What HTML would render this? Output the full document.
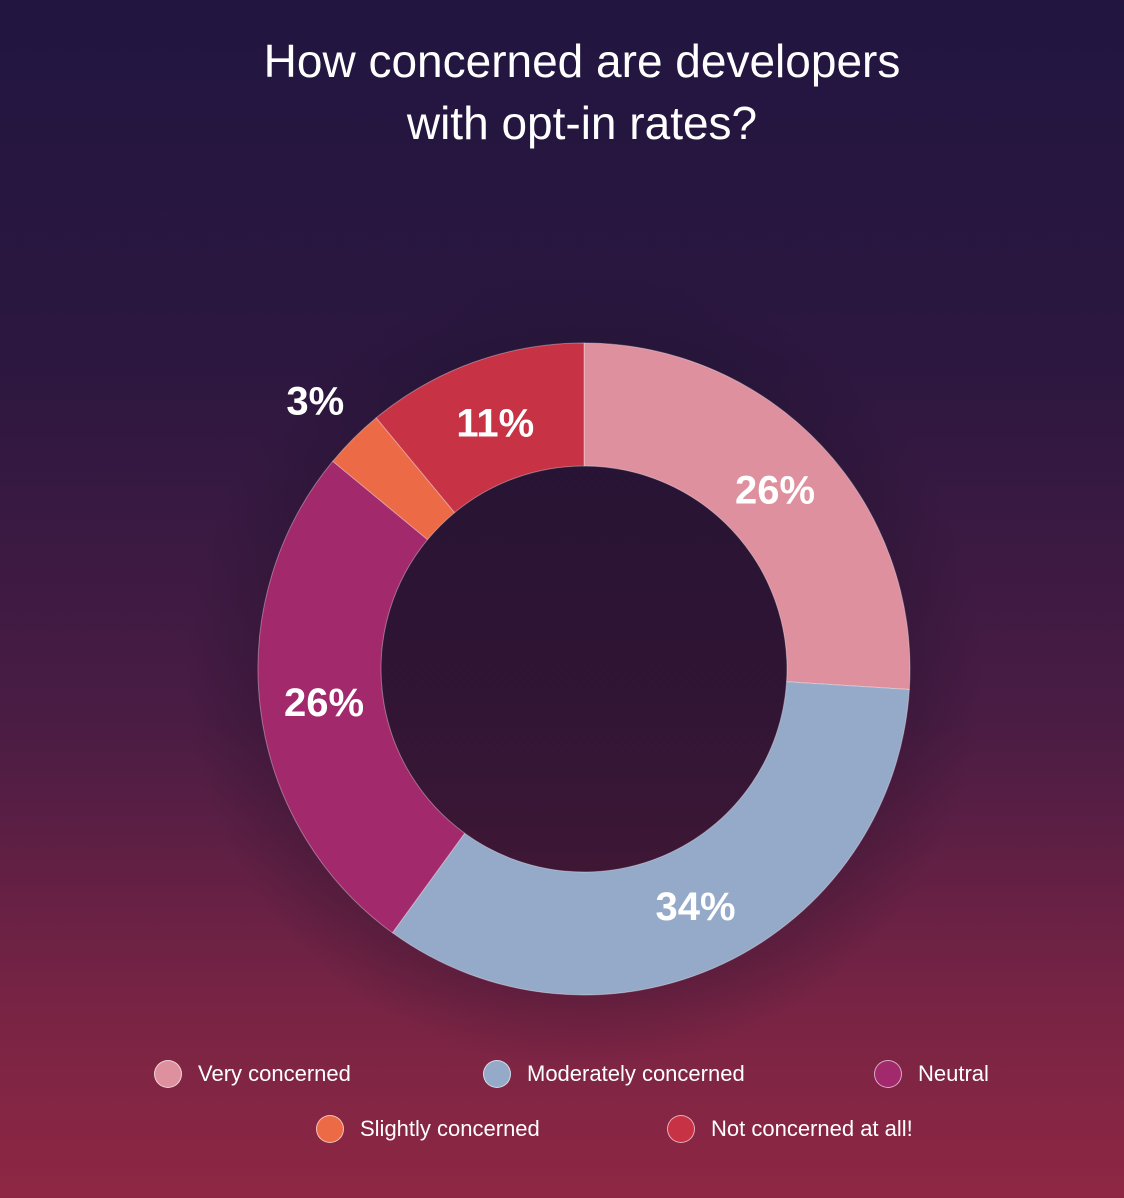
<!DOCTYPE html>
<html><head><meta charset="utf-8"><style>
html,body{margin:0;padding:0}
body{width:1124px;height:1198px;overflow:hidden;background:linear-gradient(180deg,#211640 0%,#2c1740 30%,#4a1c44 60%,#7a2444 85%,#8e2744 100%);font-family:"Liberation Sans",sans-serif;position:relative}
#title{position:absolute;top:30px;left:0;width:1164px;text-align:center;color:#fff;font-size:46px;line-height:62px}
.leg{position:absolute;color:#fff;font-size:22px;display:flex;align-items:center}
.leg i{display:inline-block;width:28px;height:28px;border-radius:50%;margin-right:16px;box-sizing:border-box;border:1.5px solid rgba(255,255,255,.6)}
</style></head><body>
<div id="title">How concerned are developers<br>with opt-in rates?</div>
<svg id="chart" width="1124" height="1198" style="position:absolute;left:0;top:0">
<defs><radialGradient id="glow"><stop offset="60%" stop-color="#1a0e26" stop-opacity=".5"/><stop offset="100%" stop-color="#1a0e26" stop-opacity="0"/></radialGradient></defs>
<circle cx="584" cy="669" r="400" fill="url(#glow)"/>
<g id="slices"></g><g id="labels"></g>
</svg>
<div class="leg" style="left:154px;top:1060px"><i style="background:#de909e"></i>Very concerned</div>
<div class="leg" style="left:483px;top:1060px"><i style="background:#95a9c9"></i>Moderately concerned</div>
<div class="leg" style="left:874px;top:1060px"><i style="background:#a2296c"></i>Neutral</div>
<div class="leg" style="left:316px;top:1115px"><i style="background:#ec6a45"></i>Slightly concerned</div>
<div class="leg" style="left:667px;top:1115px"><i style="background:#c83245"></i>Not concerned at all!</div>
<script>
const categories=["Very concerned","Moderately concerned","Neutral","Slightly concerned","Not concerned at all!"];
const values=[26,34,26,3,11];
const colors=["#de909e","#95a9c9","#a2296c","#ec6a45","#c83245"];
const cx=584,cy=669,R=326,r=203;
const ns="http://www.w3.org/2000/svg";
const total=values.reduce((a,b)=>a+b,0);
function pt(a,rad){return [cx+rad*Math.sin(a),cy-rad*Math.cos(a)];}
let acc=0;
const sg=document.getElementById('slices'),lg=document.getElementById('labels');
values.forEach((v,i)=>{
 const a0=acc/total*2*Math.PI,a1=(acc+v)/total*2*Math.PI;acc+=v;
 const large=(a1-a0)>Math.PI?1:0;
 const p0=pt(a0,R),p1=pt(a1,R),q1=pt(a1,r),q0=pt(a0,r);
 const p=document.createElementNS(ns,'path');
 p.setAttribute('d',`M${p0} A${R},${R} 0 ${large} 1 ${p1} L${q1} A${r},${r} 0 ${large} 0 ${q0}Z`);
 p.setAttribute('fill',colors[i]);p.setAttribute('stroke','rgba(255,255,255,0.35)');p.setAttribute('stroke-width','1');
 
 
 sg.appendChild(p);
 const am=(a0+a1)/2,lr=v/total<0.05?380:262;
 const lp=pt(am,lr);
 const t=document.createElementNS(ns,'text');
 t.setAttribute('x',lp[0]);t.setAttribute('y',lp[1]+14);
 t.setAttribute('text-anchor','middle');t.setAttribute('fill','#fff');
 t.setAttribute('font-size','40');t.setAttribute('font-weight','bold');
 t.setAttribute('font-family','Liberation Sans, sans-serif');
 t.textContent=v+'%';
 
 
 lg.appendChild(t);
});
</script>
</body></html>
